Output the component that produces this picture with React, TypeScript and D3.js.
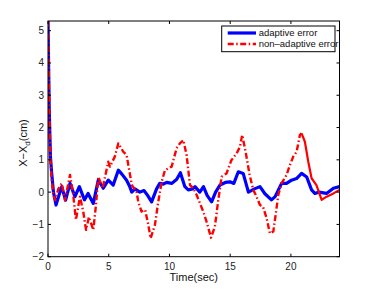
import React from "react";
import * as d3 from "d3";

const adaptiveTime = [0, 0.1, 0.2, 0.3, 0.45, 0.66, 0.9, 1.13, 1.45, 1.81, 2.22, 2.58, 3.0, 3.3, 3.73, 4.14, 4.55, 4.96, 5.37, 5.79, 6.1, 6.47, 6.7, 6.9, 7.16, 7.56, 7.9, 8.2, 8.53, 8.94, 9.2, 9.5, 9.77, 10.2, 10.6, 10.9, 11.27, 11.55, 11.9, 12.1, 12.5, 12.8, 13.1, 13.47, 13.8, 14.16, 14.6, 14.98, 15.3, 15.67, 16.07, 16.5, 17.0, 17.45, 17.86, 18.4, 18.7, 19.23, 19.64, 20.05, 20.46, 20.88, 21.3, 21.7, 21.97, 22.3, 22.93, 23.5, 24];
const adaptiveError = [5.3, 2.6, 1.1, 0.6, 0.0, -0.4, -0.1, 0.17, -0.25, 0.27, -0.14, 0.17, -0.24, -0.04, -0.35, 0.37, 0.12, 0.37, 0.22, 0.68, 0.55, 0.37, 0.2, 0.0, 0.1, 0.0, 0.05, -0.1, -0.3, 0.1, 0.27, 0.25, 0.3, 0.27, 0.4, 0.6, 0.17, 0.07, 0.1, 0.17, 0.0, 0.17, -0.1, -0.3, 0.0, 0.22, 0.3, 0.32, 0.27, 0.63, 0.58, 0.0, 0.1, 0.17, -0.05, -0.24, -0.14, 0.27, 0.27, 0.37, 0.42, 0.58, 0.47, 0.07, -0.04, 0.0, -0.04, 0.12, 0.17];

const nonAdaptiveTime = [0, 0.1, 0.2, 0.3, 0.45, 0.6, 0.85, 1.13, 1.4, 1.81, 2.05, 2.3, 2.63, 2.9, 3.13, 3.37, 3.73, 3.95, 4.14, 4.5, 4.96, 5.1, 5.5, 5.79, 6.2, 6.47, 6.9, 7.3, 7.43, 7.7, 8.0, 8.26, 8.45, 8.8, 9.08, 9.36, 9.63, 10.18, 10.59, 10.86, 11.14, 11.41, 11.69, 11.96, 12.24, 12.78, 13.06, 13.42, 13.74, 14.02, 14.3, 14.7, 15.1, 15.53, 15.8, 15.99, 16.27, 16.6, 16.9, 17.17, 17.45, 17.7, 18.0, 18.27, 18.55, 18.74, 18.96, 19.23, 19.64, 19.92, 20.19, 20.47, 20.74, 20.88, 21.15, 21.43, 21.7, 22.1, 22.53, 22.93, 23.5, 24];
const nonAdaptiveError = [5.3, 2.6, 1.0, 0.4, -0.1, -0.25, 0.1, 0.27, -0.25, 0.53, 0.0, -0.86, -0.14, -0.6, -1.17, -0.77, -1.17, -0.4, 0.48, 0.12, 0.94, 0.79, 1.1, 1.51, 1.25, 1.15, 0.22, 0.0, -0.3, -0.6, -0.55, -1.02, -1.43, -1.02, -0.3, 0.32, 0.68, 0.79, 1.36, 1.51, 1.61, 1.15, 0.22, 0.12, -0.09, -0.6, -0.92, -1.41, -1.07, -0.24, 0.48, 0.58, 0.99, 1.2, 1.4, 1.77, 1.25, 0.53, 0.07, -0.14, -0.4, -0.45, -0.81, -1.28, -1.22, -0.71, -0.09, 0.27, 0.53, 0.84, 1.1, 1.25, 1.77, 1.82, 1.56, 0.94, 0.43, 0.22, -0.24, -0.14, -0.04, 0.07];

const xTicks = [0, 5, 10, 15, 20];
const yTicks = [-2, -1, 0, 1, 2, 3, 4, 5];
const legendLabels = ["adaptive error", "non–adaptive error"];

const W = 374, H = 289;
const L = 48, R = 339.5, T = 21, B = 256.7;
const FONT = "'Liberation Sans', Arial, sans-serif";
const DASH = "6,2.5,1.5,2.5";

export default function App() {
  const x = d3.scaleLinear().domain([0, 24]).range([L, R]);
  const y = d3.scaleLinear().domain([-2, 5.3]).range([B, T]);
  const line = d3.line<[number, number]>().x(d => x(d[0])).y(d => y(d[1]));
  const blue = adaptiveTime.map((t, i) => [t, adaptiveError[i]] as [number, number]);
  const red = nonAdaptiveTime.map((t, i) => [t, nonAdaptiveError[i]] as [number, number]);
  const redDashed = red.filter(d => d[0] <= 20.88);
  const redSolid = red.filter(d => d[0] >= 20.88);
  const tl = 3;
  return (
    <svg width={W} height={H} style={{ position: "absolute", left: 0, top: 0, background: "#fff" }} fontFamily={FONT}>
      <rect x={0} y={0} width={W} height={H} fill="#fff" />
      <defs>
        <clipPath id="plotclip">
          <rect x={L} y={T} width={R - L} height={B - T} />
        </clipPath>
      </defs>
      <g clipPath="url(#plotclip)">
        <path d={line(blue) || ""} fill="none" stroke="#0000ff" strokeWidth={3.2} strokeLinejoin="round" />
        <path d={line(redDashed) || ""} fill="none" stroke="#ff0000" strokeWidth={2.4} strokeDasharray={DASH} strokeLinejoin="round" />
        <path d={line(redSolid) || ""} fill="none" stroke="#ff0000" strokeWidth={2.2} strokeLinejoin="round" />
      </g>
      <rect x={L} y={T} width={R - L} height={B - T} fill="none" stroke="#000" strokeWidth={1} />
      {xTicks.map(v => (
        <g key={"x" + v}>
          <line x1={x(v)} x2={x(v)} y1={B} y2={B - tl} stroke="#000" />
          <line x1={x(v)} x2={x(v)} y1={T} y2={T + tl} stroke="#000" />
          <text x={x(v)} y={B + 13} textAnchor="middle" fontSize={10} fill="#222">{v}</text>
        </g>
      ))}
      {yTicks.map(v => (
        <g key={"y" + v}>
          <line x1={L} x2={L + tl} y1={y(v)} y2={y(v)} stroke="#000" />
          <line x1={R} x2={R - tl} y1={y(v)} y2={y(v)} stroke="#000" />
          <text x={L - 4} y={y(v) + 3.5} textAnchor="end" fontSize={10} fill="#222">{v < 0 ? "−" + Math.abs(v) : v}</text>
        </g>
      ))}
      <text x={(L + R) / 2} y={281} textAnchor="middle" fontSize={11} fill="#111">Time(sec)</text>
      <text transform={`translate(27, 143) rotate(-90)`} textAnchor="middle" fontSize={11} fill="#111">
        X−X<tspan fontSize={8} dy={3}>d</tspan><tspan dy={-3}>(cm)</tspan>
      </text>
      <g>
        <rect x={221.7} y={26} width={113.3} height={25.7} fill="#fff" stroke="#000" strokeWidth={1} />
        <line x1={227.7} x2={256} y1={33} y2={33} stroke="#0000ff" strokeWidth={3.2} />
        <line x1={227.7} x2={256} y1={44} y2={44} stroke="#ff0000" strokeWidth={2.4} strokeDasharray={DASH} />
        <text x={258.7} y={36.3} fontSize={9.5} fill="#111">{legendLabels[0]}</text>
        <text x={258.7} y={47.3} fontSize={9.5} fill="#111">{legendLabels[1]}</text>
      </g>
    </svg>
  );
}
